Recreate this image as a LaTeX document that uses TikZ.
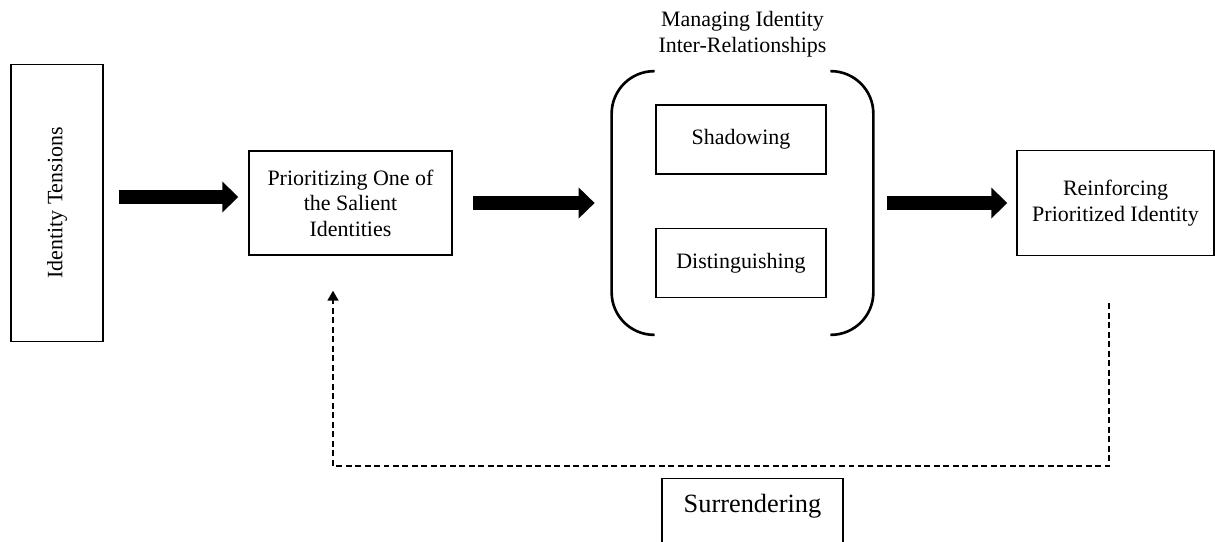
\documentclass[tikz,border=0pt]{standalone}
\usepackage{fontspec}
\setmainfont{Liberation Serif}
\usetikzlibrary{arrows.meta, positioning, calc}

\begin{document}
\begin{tikzpicture}[
    box/.style={draw, line width=0.8pt, align=center, inner sep=2pt,
      font=\fontsize{12.5}{14.5}\selectfont},
    flow/.style={-{Triangle[length=3.2mm, width=6mm]}, line width=2.7mm},
    fback/.style={-{Triangle[length=2mm, width=2.2mm]}, line width=1pt,
      dash pattern=on 3.4pt off 2pt}]
  \useasboundingbox (0,0) rectangle (24.3,-10.82);
  \node[box, minimum width=1.84cm, minimum height=5.54cm] (tens) at (1.14,-4.06) {\rotatebox{90}{Identity Tensions}};
  \node[box, minimum width=4.06cm, minimum height=2.08cm] (prio) at (7.01,-4.06) {Prioritizing One of\\the Salient\\Identities};
  \node[minimum width=5.22cm, minimum height=5.26cm, inner sep=0pt] (mgmt) at (14.85,-4.06) {};
  \node[box, minimum width=3.4cm, minimum height=1.38cm] (shad) at (14.82,-2.79) {Shadowing};
  \node[box, minimum width=3.4cm, minimum height=1.38cm] (dist) at (14.82,-5.26) {Distinguishing};
  \node[box, draw=none, above=0.2cm of mgmt] (mgmttitle) {Managing Identity\\Inter-Relationships};
  \node[box, minimum width=3.94cm, minimum height=2.1cm] (reinf) at (22.31,-4.06) {Reinforcing\\Prioritized Identity};
  \node[box, anchor=north, minimum width=3.62cm, text height=0.61cm, text depth=1.2cm,
    font=\fontsize{15}{18}\selectfont] (surr) at (15.05,-9.56) {Surrendering};
  % brackets round the two strategies
  \draw[line width=1.5pt, rounded corners=0.85cm] ($(mgmt.north west)+(0.86,0)$) -- (mgmt.north west) -- (mgmt.south west) -- ++(0.86,0);
  \draw[line width=1.5pt, rounded corners=0.85cm] ($(mgmt.north east)+(-0.86,0)$) -- (mgmt.north east) -- (mgmt.south east) -- ++(-0.86,0);
  % main flow
  \draw[flow] ($(tens.east)+(0.3,0.12)$) -- ($(prio.west)+(-0.2,0.12)$);
  \draw[flow] ($(prio.east)+(0.4,0)$) -- ($(mgmt.west)+(-0.34,0)$);
  \draw[flow] ($(mgmt.east)+(0.28,0)$) -- ($(reinf.west)+(-0.18,0)$);
  % feedback loop
  \coordinate (fbstart) at ($(reinf.south)+(-0.13,-0.94)$);
  \coordinate (fbend) at ($(prio.south)+(-0.35,-0.7)$);
  \draw[fback] (fbstart) -- ++(0,-3.26) -| (fbend);
\end{tikzpicture}
\end{document}
